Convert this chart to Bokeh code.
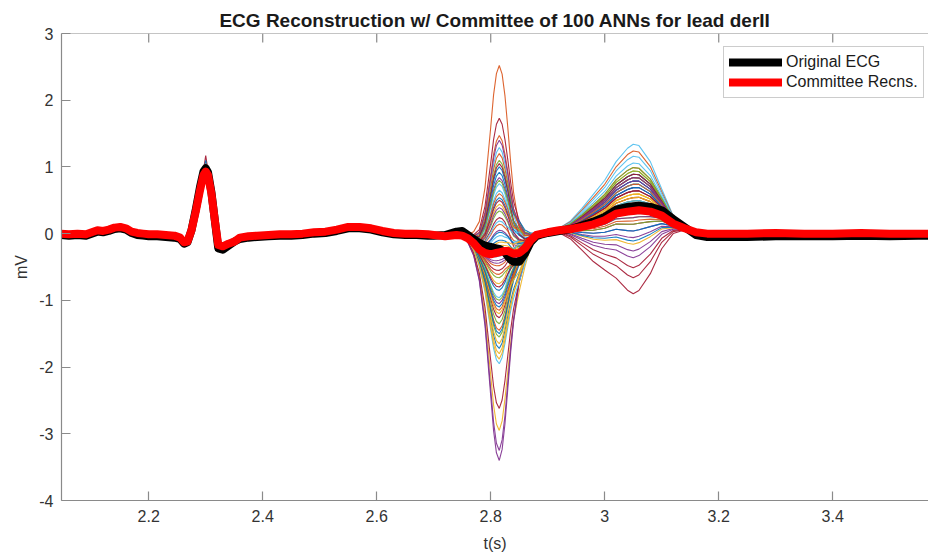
import numpy as np
from bokeh.plotting import figure
from bokeh.models import Legend, LegendItem, FixedTicker, Range1d, Span
from bokeh.embed import file_html
from bokeh.resources import INLINE

# ---------------- data ----------------
t_ecg = [2.045, 2.06, 2.075, 2.09, 2.10, 2.11, 2.12, 2.13, 2.14, 2.15, 2.16, 2.17, 2.18, 2.19, 2.20,
         2.215, 2.23, 2.245, 2.255, 2.262, 2.268, 2.275, 2.283, 2.29, 2.296, 2.30, 2.304, 2.31, 2.316,
         2.322, 2.33, 2.34, 2.35, 2.36, 2.375, 2.39, 2.41, 2.43, 2.45, 2.47, 2.49, 2.51, 2.53, 2.55,
         2.57, 2.59, 2.61, 2.63, 2.65, 2.67, 2.69,
         2.70, 2.72, 2.74, 2.75, 2.76, 2.77, 2.78, 2.79, 2.80, 2.805, 2.81, 2.815, 2.82, 2.825, 2.83,
         2.835, 2.84, 2.85, 2.86, 2.87, 2.88, 2.89, 2.90, 2.92, 2.94, 2.96, 2.98, 3.00, 3.02, 3.04,
         3.05, 3.06, 3.08, 3.10, 3.12, 3.14, 3.16, 3.18, 3.20,
         3.25, 3.30, 3.35, 3.40, 3.45, 3.50, 3.55, 3.575]

ecg_original = [-0.02, -0.03, -0.02, -0.03, 0.00, 0.03, 0.02, 0.04, 0.07, 0.08, 0.06, 0.01, -0.02, -0.03, -0.04,
                -0.04, -0.05, -0.06, -0.08, -0.15, -0.13, 0.05, 0.38, 0.70, 0.93, 0.98, 0.92, 0.62, 0.20,
                -0.22, -0.24, -0.18, -0.12, -0.08, -0.06, -0.05, -0.04, -0.03, -0.03, -0.02, 0.00, 0.01, 0.04, 0.08,
                0.08, 0.06, 0.02, -0.01, -0.02, -0.02, -0.03,
                -0.03, -0.02, 0.03, 0.04, -0.02, -0.08, -0.14, -0.18, -0.20, -0.21, -0.22, -0.23, -0.25, -0.28, -0.34,
                -0.39, -0.42, -0.42, -0.30, -0.13, -0.04, -0.01, 0.01, 0.04, 0.07, 0.12, 0.18, 0.25, 0.36, 0.40,
                0.41, 0.42, 0.40, 0.35, 0.22, 0.10, -0.02, -0.05, -0.05,
                -0.05, -0.04, -0.04, -0.04, -0.03, -0.04, -0.03, -0.03]

ecg_committee = [0.00, -0.01, 0.00, -0.01, 0.02, 0.05, 0.04, 0.06, 0.09, 0.10, 0.08, 0.03, 0.01, 0.00, -0.01,
                 -0.01, -0.02, -0.03, -0.06, -0.13, -0.12, 0.05, 0.35, 0.65, 0.88, 0.93, 0.88, 0.60, 0.20,
                 -0.17, -0.19, -0.15, -0.12, -0.06, -0.04, -0.03, -0.02, -0.01, -0.01, 0.00, 0.02, 0.03, 0.06, 0.10,
                 0.10, 0.08, 0.04, 0.01, 0.00, 0.00, -0.01,
                 -0.02, -0.04, -0.02, -0.03, -0.07, -0.14, -0.24, -0.29, -0.31, -0.30, -0.29, -0.28, -0.27, -0.26, -0.26,
                 -0.28, -0.30, -0.29, -0.22, -0.10, -0.02, 0.00, 0.02, 0.05, 0.07, 0.10, 0.14, 0.20, 0.30, 0.33,
                 0.34, 0.35, 0.33, 0.27, 0.15, 0.08, 0.02, 0.00, 0.00,
                 0.00, 0.01, 0.00, 0.00, 0.01, 0.00, 0.00, 0.00]

# a few ANN outputs overshoot the R peak slightly
r_peak_t = [2.290, 2.296, 2.300, 2.304, 2.310]
r_peak_ann = [[0.66, 0.95, 1.17, 0.95, 0.61],
              [0.66, 0.93, 1.10, 0.92, 0.61],
              [0.65, 0.91, 1.05, 0.91, 0.60]]

# window of t_ecg covered by the individual ANN outputs
ann_t_start, ann_t_end = 2.70, 3.20
# deviation profiles of the ANN outputs over that window (normalised)
qrs_profile = [0, 0, 0, 0.005, 0.02, 0.06, 0.15, 0.35, 0.68, 0.85, 0.96, 1.0, 0.95, 0.83, 0.66,
               0.48, 0.33, 0.14, 0.05, 0.015, 0, 0, 0, 0, 0, 0, 0, 0, 0, 0,
               0, 0, 0, 0, 0, 0, 0, 0, 0]
twave_profile = [0, 0, 0, 0, 0, 0, 0, 0, 0, 0, 0, 0, 0, 0, 0,
                 0, 0, 0, 0, 0, 0, 0, 0, 0.03, 0.12, 0.28, 0.45, 0.60, 0.78, 0.95,
                 1.0, 0.97, 0.75, 0.40, 0.12, 0.02, 0, 0, 0]
late_profile = [0, 0, 0, 0, 0, 0, 0, 0, 0, 0, 0, 0, 0, 0, 0.2,
                0.4, 0.6, 1.0, 0.7, 0.3, 0.1, 0, 0, 0, 0, 0, 0, 0, 0, 0,
                0, 0, 0, 0, 0, 0, 0, 0, 0]

# per-network amplitudes (mV) of those deviations
ann_qrs = [1.20, 2.80, -2.67, -3.12, -1.27, 1.57, 2.01, -1.44, 1.48, -1.37,
           -2.97, 1.38, 0.93, -2.34, 1.28, -1.17, -1.52, 1.12, -1.07, 1.03,
           -0.98, 0.82, -0.87, 0.72, -0.77, 0.62, -0.68, 0.52, -0.57, 0.42,
           -0.47, 0.33, -0.38, 0.25, -0.27, 0.18, -0.20, 0.10, -0.12, 0.05,
           -0.06, 1.33, -1.22, 0.88, -0.92, 0.67, -0.72, 0.47, -0.52, 0.30,
           -0.33, 0.15, -0.16, 1.08, -1.67, 0.78, -0.82, 1.75, -1.60, 1.68]
ann_twave = [0.45, 0.30, 0.60, -0.30, 0.55, 1.00, -1.24, 0.50, 0.90, 0.20,
             -0.60, 0.40, 0.82, -1.00, 0.35, 0.65, 0.25, 0.15, -0.10, 0.72,
             -0.85, 0.55, 0.10, 0.05, -0.40, 0.60, 0.30, -0.20, 0.45, 0.00,
             -0.50, 0.35, 0.50, -0.05, 0.20, 0.40, -0.15, 0.25, -0.70, 0.15,
             0.40, 0.30, -0.30, 0.50, 0.20, 0.45, -0.20, 0.10, 0.55, 0.35,
             0.00, 0.25, -0.10, 0.65, 0.15, 0.30, -0.45, 0.40, 0.10, 0.50]
ann_late = [0.10, 0.00, -0.20, 0.00, 0.15, 0.10, 0.20, -0.10, 0.20, 0.10,
            0.00, 0.25, 0.15, -0.10, 0.30, 0.05, -0.15, 0.20, 0.10, 0.00,
            0.10, 0.15, -0.05, 0.25, 0.05, 0.10, 0.20, -0.10, 0.15, 0.10,
            0.20, 0.05, -0.10, 0.15, 0.10, 0.00, 0.20, 0.05, -0.05, 0.10,
            0.15, 0.10, 0.00, 0.20, -0.15, 0.10, 0.05, 0.25, 0.00, 0.10,
            -0.10, 0.15, 0.05, 0.20, -0.20, 0.10, 0.05, 0.15, -0.10, 0.20]

x_ticks = [2.2, 2.4, 2.6, 2.8, 3.0, 3.2, 3.4]
x_tick_labels = ["2.2", "2.4", "2.6", "2.8", "3", "3.2", "3.4"]
y_ticks = [-4, -3, -2, -1, 0, 1, 2, 3]
y_tick_labels = ["-4", "-3", "-2", "-1", "0", "1", "2", "3"]

assert len(t_ecg) == len(ecg_original) == len(ecg_committee)
i0 = t_ecg.index(ann_t_start)
i1 = t_ecg.index(ann_t_end) + 1
assert len(qrs_profile) == len(twave_profile) == len(late_profile) == i1 - i0
assert len(ann_qrs) == len(ann_twave) == len(ann_late)

# ---------------- styling ----------------
matlab_colors = ["#0072BD", "#D95319", "#EDB120", "#7E2F8E", "#77AC30", "#4DBEEE", "#A2142F"]
FONT = "Liberation Sans"
AXIS_COLOR = "#8a8a8a"
TEXT_COLOR = "#333333"

p = figure(width=928, height=559, output_backend="svg", toolbar_location=None,
           x_range=Range1d(2.047, 3.568), y_range=Range1d(y_ticks[0], y_ticks[-1]),
           min_border_left=61, min_border_right=0, min_border_top=33, min_border_bottom=59,
           x_axis_label="t(s)", y_axis_label="mV")
p.outline_line_color = None
p.grid.visible = False
p.background_fill_color = "white"
p.border_fill_color = "white"

p.title.text = "ECG Reconstruction w/ Committee of 100 ANNs for lead derII"
p.title.text_font = FONT
p.title.text_font_size = "19px"
p.title.text_font_style = "bold"
p.title.text_color = "#1a1a1a"
p.title.align = "center"
p.title.offset = 5
p.title.standoff = 5

for ax, ticks, labels in ((p.xaxis[0], x_ticks, x_tick_labels), (p.yaxis[0], y_ticks, y_tick_labels)):
    ax.ticker = FixedTicker(ticks=ticks)
    ax.major_label_overrides = {tk: lb for tk, lb in zip(ticks, labels)}
    ax.major_tick_in = 9
    ax.major_tick_out = 0
    ax.minor_tick_in = 0
    ax.minor_tick_out = 0
    ax.axis_line_color = AXIS_COLOR
    ax.axis_line_width = 1.2
    ax.major_tick_line_color = AXIS_COLOR
    ax.major_tick_line_width = 1.2
    ax.major_label_text_font = FONT
    ax.major_label_text_font_size = "16px"
    ax.major_label_text_color = TEXT_COLOR
    ax.axis_label_text_font = FONT
    ax.axis_label_text_font_size = "16px"
    ax.axis_label_text_font_style = "normal"
    ax.axis_label_text_color = TEXT_COLOR
p.xaxis[0].major_label_standoff = 9
p.xaxis[0].axis_label_standoff = 10
p.yaxis[0].major_label_standoff = 8
p.yaxis[0].axis_label_standoff = 6

# top edge of the box with inward ticks (no labels)
p.add_layout(Span(location=y_ticks[-1], dimension="width", line_color=AXIS_COLOR, line_width=1.2))
p.ray(x=x_ticks, y=[y_ticks[-1]] * len(x_ticks), length=9, length_units="screen",
      angle=-np.pi / 2, line_color=AXIS_COLOR, line_width=1.2)

# individual ANN outputs
t_win = np.array(t_ecg[i0:i1])
base = np.array(ecg_committee[i0:i1])
qp, tp, lp = np.array(qrs_profile), np.array(twave_profile), np.array(late_profile)
for k, (a, b, c) in enumerate(zip(ann_qrs, ann_twave, ann_late)):
    y = base + a * qp + b * tp + c * lp
    p.line(t_win, y, line_color=matlab_colors[k % 7], line_width=1.1, line_alpha=0.9)
for k, rv in enumerate(r_peak_ann):
    p.line(r_peak_t, rv, line_color=matlab_colors[(k + 6) % 7], line_width=1.1, line_alpha=0.9)

r_orig = p.line(t_ecg, ecg_original, line_color="black", line_width=8, line_join="round", line_cap="round")
r_comm = p.line(t_ecg, ecg_committee, line_color="#ff0000", line_width=8, line_join="round", line_cap="round")

legend = Legend(items=[LegendItem(label="Original ECG", renderers=[r_orig]),
                       LegendItem(label="Committee Recns.", renderers=[r_comm])],
                location=(662, 402), padding=5, spacing=0, margin=0,
                glyph_width=53, glyph_height=20, label_height=20, label_standoff=4,
                label_text_font=FONT, label_text_font_size="16px", label_text_color="#1a1a1a",
                border_line_color="#9a9a9a", border_line_width=1, background_fill_color="white")
p.add_layout(legend, "center")

open("out.html", "w").write(file_html(p, INLINE))
